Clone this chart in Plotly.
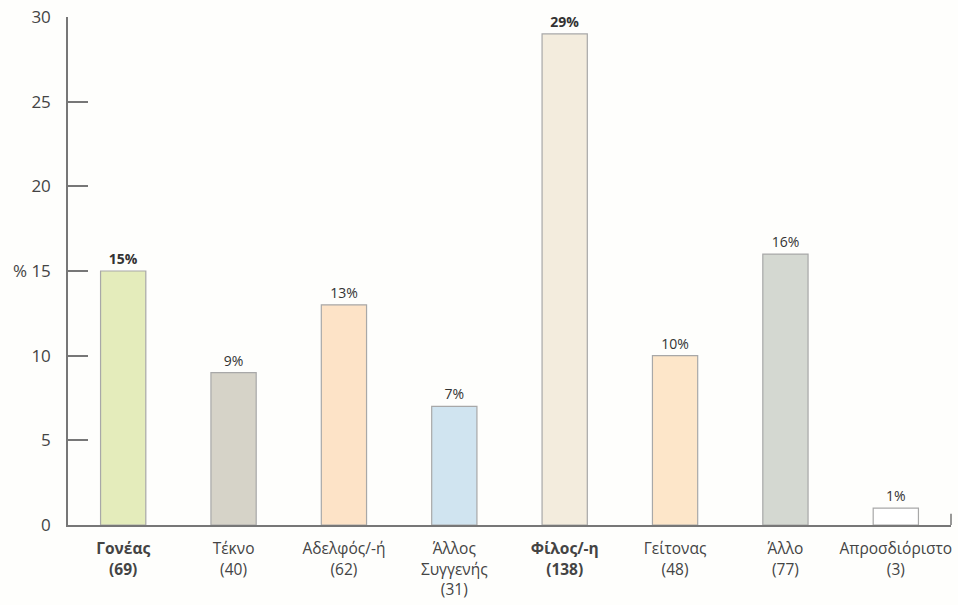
import plotly.graph_objects as go

categories = ["Γονέας", "Τέκνο", "Αδελφός/-ή", "Άλλος<br>Συγγενής", "Φίλος/-η", "Γείτονας", "Άλλο", "Απροσδιόριστο"]
counts = [69, 40, 62, 31, 138, 48, 77, 3]
percents = [15, 9, 13, 7, 29, 10, 16, 1]
bold = [True, False, False, False, True, False, False, False]
bar_colors = ["#e4ecbb", "#d6d3c8", "#fde3c7", "#d0e4f0", "#f3ecdd", "#fde6c9", "#d4d8d1", "#ffffff"]
y_tickvals = [0, 5, 10, 15, 20, 25, 30]
y_ticktext = ["0", "5", "10", "% 15", "20", "25", "30"]

x_labels = []
bar_text = []
for c, n, p, b in zip(categories, counts, percents, bold):
    if b:
        x_labels.append(f"<b>{c}</b><br><b>({n})</b>")
        bar_text.append(f"<b>{p}%</b>")
    else:
        x_labels.append(f"{c}<br>({n})")
        bar_text.append(f"{p}%")

fig = go.Figure(go.Bar(
    x=list(range(len(categories))),
    y=percents,
    width=0.41,
    marker=dict(color=bar_colors, line=dict(color="#a8a8a8", width=1.2)),
    text=bar_text,
    textposition="outside",
    textfont=dict(family="Open Sans, Noto Sans, sans-serif", size=14, color="#333333"),
    cliponaxis=False,
    hoverinfo="skip",
))

fig.update_layout(
    width=958, height=605,
    margin=dict(l=68, r=7, t=17, b=80, autoexpand=False),
    paper_bgcolor="#fefefc",
    plot_bgcolor="#fefefc",
    showlegend=False,
    font=dict(family="Open Sans, Noto Sans, sans-serif", color="#444444"),
    shapes=[dict(type="line", xref="paper", yref="paper", x0=1, x1=1, y0=0, y1=0.022,
                 line=dict(color="#777777", width=1.5))],
)
fig.update_xaxes(
    range=[-0.5, 7.5],
    tickvals=list(range(len(categories))),
    ticktext=x_labels,
    showline=True, linecolor="#777777", linewidth=1.5,
    showgrid=False, zeroline=False, ticks="",
    tickfont=dict(size=15.5, color="#444444"),
    ticklabelstandoff=9,
    ticklabeloverflow="allow",
    automargin=False,
)
fig.update_yaxes(
    range=[0, 30],
    tickvals=y_tickvals,
    ticktext=y_ticktext,
    showline=True, linecolor="#777777", linewidth=1.5,
    showgrid=False, zeroline=False,
    ticks="inside", ticklen=20, tickcolor="#777777", tickwidth=1.5,
    tickfont=dict(size=17, color="#444444"),
    ticklabelstandoff=12,
    ticklabeloverflow="allow",
    automargin=False,
)

fig.write_html(
    "out.html",
    config={"displayModeBar": False},
    post_script="document.body.style.margin='0px'; document.body.style.overflow='hidden';",
)
